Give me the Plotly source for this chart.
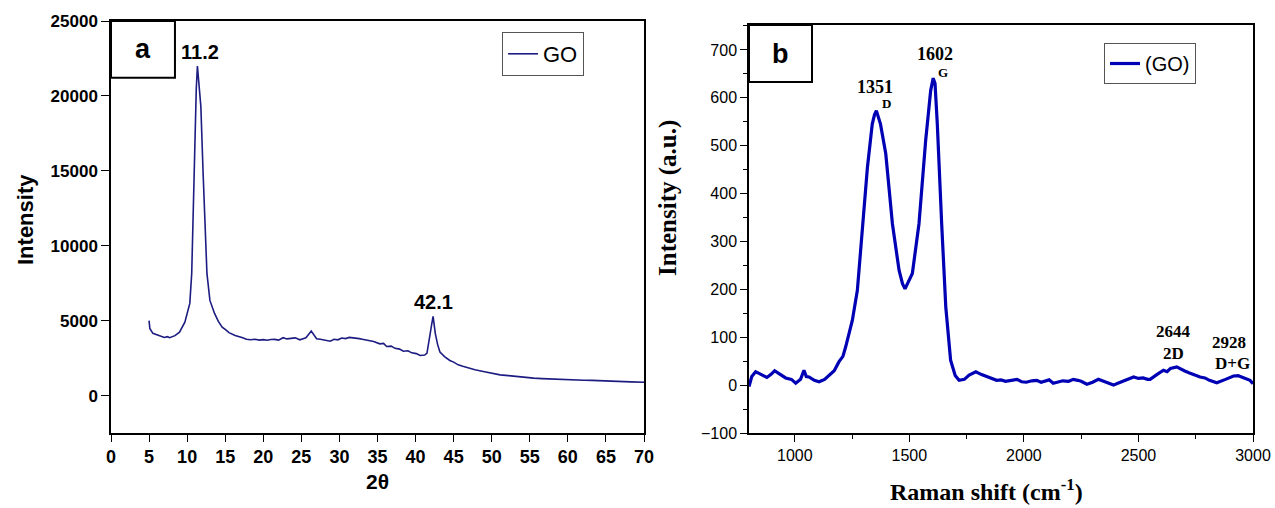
import plotly.graph_objects as go

# ---------------- Data: panel a (XRD) ----------------
xrd_2theta = [5.0, 5.1, 5.5, 6.0, 6.4, 7.0, 7.4, 7.7, 8.4, 9.0, 9.7, 10.35, 10.6, 10.8, 11.0,
              11.2, 11.35, 11.5, 11.8, 12.1, 12.33, 12.6, 12.99, 13.6, 14.1, 14.6, 15.0, 15.5,
              16.3, 16.8, 17.2, 17.8, 18.3, 18.9, 19.5, 20.0, 20.5, 21.0, 21.5, 22.0, 22.6,
              23.1, 23.7, 24.2, 24.8, 25.6, 26.3, 27.0, 27.5, 28.0, 28.8, 29.3, 29.8, 30.3,
              30.8, 31.3, 31.8, 32.2, 32.6, 33.0, 33.5, 34.0, 34.5, 35.3, 35.8, 36.2, 36.8,
              37.3, 37.9, 38.4, 39.0, 39.5, 40.1, 40.6, 41.2, 41.5, 41.9, 42.1, 42.3, 42.6,
              42.9, 43.2, 43.8, 44.5, 45.0, 45.6, 46.2, 46.8, 47.8, 48.9, 50.0, 51.1, 52.2,
              53.3, 54.4, 55.5, 56.6, 57.7, 58.8, 59.9, 61.0, 62.1, 63.2, 64.3, 65.4, 66.5,
              67.4, 68.3, 69.2, 70.0]
xrd_intensity = [5000, 4480, 4150, 4050, 4000, 3880, 3930, 3860, 4000, 4230, 4900, 6150, 8150,
                 12600, 16400, 20500, 22000, 21000, 19300, 14800, 11250, 8150, 6350, 5480,
                 4950, 4570, 4420, 4200, 4010, 3950, 3880, 3760, 3720, 3760, 3700, 3730, 3690,
                 3740, 3750, 3700, 3860, 3780, 3800, 3850, 3720, 3850, 4300, 3790, 3760, 3700,
                 3630, 3760, 3720, 3840, 3800, 3880, 3860, 3820, 3800, 3760, 3700, 3680, 3610,
                 3450, 3480, 3275, 3300, 3150, 3100, 2960, 2990, 2850, 2800, 2670, 2700, 2830,
                 3900, 4700, 5280, 4120, 3400, 2900, 2600, 2340, 2230, 2050, 1950, 1850, 1720,
                 1600, 1480, 1380, 1330, 1260, 1200, 1160, 1130, 1100, 1080, 1050, 1040, 1020,
                 1010, 1000, 970, 950, 930, 910, 900, 890]

# ---------------- Data: panel b (Raman) ----------------
raman_shift = [800, 812, 829, 845, 860, 878, 895, 912, 931, 945, 960, 985, 1004, 1025, 1040,
               1050, 1062, 1085, 1106, 1130, 1149, 1172, 1193, 1210, 1222, 1236, 1251, 1273,
               1295, 1317, 1338, 1348, 1356, 1365, 1374, 1397, 1426, 1455, 1470, 1481, 1495,
               1513, 1542, 1571, 1593, 1604, 1612, 1622, 1641, 1659, 1680, 1700, 1717, 1740,
               1761, 1790, 1815, 1838, 1860, 1881, 1900, 1920, 1945, 1970, 1990, 2010, 2035,
               2056, 2075, 2090, 2110, 2128, 2150, 2170, 2195, 2216, 2235, 2250, 2275, 2300,
               2325, 2345, 2360, 2375, 2391, 2410, 2430, 2455, 2479, 2500, 2520, 2540, 2551,
               2580, 2609, 2625, 2640, 2667, 2685, 2700, 2720, 2740, 2769, 2790, 2810, 2842,
               2860, 2880, 2915, 2935, 2950, 2970, 2987, 3000]
raman_intensity = [-3, 18, 28, 24, 20, 16, 22, 30, 24, 19, 15, 12, 4, 12, 31, 18, 17, 10, 7, 12,
                   21, 30, 49, 60, 80, 105, 135, 198, 330, 455, 545, 565, 573, 560, 545, 483,
                   337, 240, 212, 201, 215, 233, 337, 510, 615, 641, 630, 545, 337, 163, 52, 20,
                   10, 12, 21, 28, 22, 18, 14, 10, 11, 8, 10, 12, 7, 6, 9, 10, 6, 8, 11, 4, 7,
                   9, 8, 12, 10, 8, 2, 6, 12, 8, 5, 3, 0, 4, 8, 13, 17, 14, 15, 12, 12, 22, 31,
                   28, 35, 38, 33, 30, 26, 22, 17, 15, 10, 5, 8, 12, 19, 20, 17, 14, 10, 3]

fig = go.Figure()

fig.add_trace(go.Scatter(x=xrd_2theta, y=xrd_intensity, mode="lines", name="GO",
                         line=dict(color="#1c1c82", width=1.6), xaxis="x", yaxis="y",
                         legend="legend"))
fig.add_trace(go.Scatter(x=raman_shift, y=raman_intensity, mode="lines", name="(GO)",
                         line=dict(color="#0000b4", width=3.2), xaxis="x2", yaxis="y2",
                         legend="legend2"))

W, H = 1275, 508
ax_common = dict(showline=True, linecolor="black", linewidth=1.5, mirror=True,
                 showgrid=False, zeroline=False, ticks="outside", tickcolor="black",
                 automargin=False)

fig.update_layout(
    width=W, height=H,
    margin=dict(l=0, r=0, t=0, b=0),
    paper_bgcolor="white", plot_bgcolor="white",
    xaxis=dict(domain=[111 / W, 644 / W], range=[0, 70], tick0=0, dtick=5, ticklen=7,
               tickfont=dict(family="Liberation Sans", size=18, color="black", weight="bold"),
               title=dict(text="2θ", font=dict(family="Liberation Sans", size=21, color="black",
                                               weight="bold"), standoff=8),
               anchor="y", **ax_common),
    yaxis=dict(domain=[1 - 433 / H, 1 - 21 / H], range=[-2500, 25000], tick0=0, dtick=5000,
               ticklen=8, tickformat="d",
               tickfont=dict(family="Liberation Sans", size=17, color="black", weight="bold"),
               anchor="x", **ax_common),
    xaxis2=dict(domain=[749 / W, 1253 / W], range=[800, 3000], tick0=0, dtick=500, ticklen=7,
                minor=dict(dtick=250, ticklen=4, ticks="outside", tickcolor="black"),
                tickfont=dict(family="Liberation Sans", size=16, color="black"),
                anchor="y2", **ax_common),
    yaxis2=dict(domain=[1 - 433 / H, 1 - 25 / H], range=[-100, 752], tick0=0, dtick=100,
                ticklen=7,
                minor=dict(dtick=50, ticklen=4, ticks="outside", tickcolor="black"),
                tickfont=dict(family="Liberation Sans", size=16, color="black"),
                anchor="x2", **ax_common),
    legend=dict(x=502 / W, y=1 - 32 / H, xanchor="left", yanchor="top",
                bgcolor="white", bordercolor="#555555", borderwidth=1,
                font=dict(family="Liberation Sans", size=22, color="black"),
                tracegroupgap=0, itemwidth=30),
    legend2=dict(x=1104 / W, y=1 - 43 / H, xanchor="left", yanchor="top",
                 bgcolor="white", bordercolor="#555555", borderwidth=1,
                 font=dict(family="Liberation Sans", size=20, color="black"),
                 tracegroupgap=0, itemwidth=30),
    showlegend=True,
)

# Axis titles placed as annotations (paper coordinates)
fig.add_annotation(xref="paper", yref="paper", x=25 / W, y=1 - 220 / H, text="Intensity",
                   textangle=-90, showarrow=False, xanchor="center", yanchor="middle",
                   font=dict(family="Liberation Sans", size=22, color="black", weight="bold"))
fig.add_annotation(xref="paper", yref="paper", x=668 / W, y=1 - 198 / H,
                   text="Intensity (a.u.)", textangle=-90, showarrow=False,
                   xanchor="center", yanchor="middle",
                   font=dict(family="Liberation Serif", size=25, color="black", weight="bold"))
fig.add_annotation(xref="paper", yref="paper", x=986 / W, y=1 - 490 / H,
                   text="Raman shift (cm<sup>-1</sup>)", showarrow=False,
                   xanchor="center", yanchor="middle",
                   font=dict(family="Liberation Serif", size=24, color="black", weight="bold"))

# Panel label boxes
fig.add_shape(type="rect", xref="x domain", yref="y domain", x0=0, x1=0.12, y0=0.862, y1=1,
              line=dict(color="black", width=2), fillcolor="white")
fig.add_shape(type="rect", xref="x2 domain", yref="y2 domain", x0=0, x1=0.125, y0=0.86, y1=1,
              line=dict(color="black", width=2), fillcolor="white")
fig.add_annotation(xref="x domain", yref="y domain", x=0.06, y=0.931, text="a",
                   xanchor="center", yanchor="middle",
                   showarrow=False, font=dict(family="Liberation Sans", size=27, color="black",
                                              weight="bold"))
fig.add_annotation(xref="x2 domain", yref="y2 domain", x=0.0625, y=0.93, text="b",
                   xanchor="center", yanchor="middle",
                   showarrow=False, font=dict(family="Liberation Sans", size=27, color="black",
                                              weight="bold"))

# Peak labels, panel a
for xv, yv, t in [(11.7, 22900, "11.2"), (42.3, 6250, "42.1")]:
    fig.add_annotation(xref="x", yref="y", x=xv, y=yv, text=t, showarrow=False,
                       xanchor="center", yanchor="middle",
                       font=dict(family="Liberation Sans", size=20, color="black", weight="bold"))

# Peak labels, panel b
serif_labels = [(1350, 623, "1351", 18), (1398, 588, "D", 13), (1612, 692, "1602", 18),
                (1647, 652, "G", 13), (2651, 112, "2644", 17), (2651, 67, "2D", 17),
                (2896, 90, "2928", 17), (2909, 46, "D+G", 17)]
for xv, yv, t, s in serif_labels:
    fig.add_annotation(xref="x2", yref="y2", x=xv, y=yv, text=t, showarrow=False,
                       xanchor="center", yanchor="middle",
                       font=dict(family="Liberation Serif", size=s, color="black",
                                 weight="bold"))

fig.write_html("out.html")
